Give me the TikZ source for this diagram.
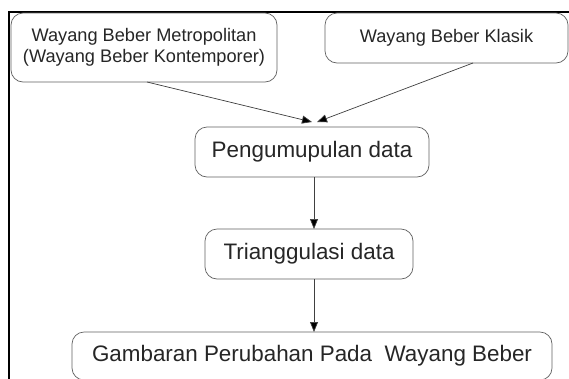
\documentclass[tikz,border=0pt]{standalone}
\usepackage{fontspec}
\setmainfont{Liberation Sans}
\usetikzlibrary{arrows.meta,calc}
\begin{document}
\begin{tikzpicture}[x=1pt,y=-1pt,
  box/.style={draw=black!62,line width=0.7pt,rounded corners=12pt,inner sep=0pt,outer sep=0pt,
    align=center,text=black!85},
  smalltxt/.style={font=\fontsize{18.2}{21}\selectfont},
  bigtxt/.style={font=\fontsize{22.4}{26}\selectfont},
  arr/.style={draw=black!75,line width=0.7pt,-{Triangle[length=10pt,width=8pt,fill=black]}}]
\useasboundingbox (0,0) rectangle (569,378);
\clip (0,0) rectangle (569,378);
\fill[white] (0,0) rectangle (569,378);
\draw[line width=2pt] (9,380) -- (9,12) -- (575,12);
\node[box,smalltxt,minimum width=266pt,minimum height=69pt] (b1) at (144,47.5)
  {Wayang Beber Metropolitan\\(Wayang Beber Kontemporer)};
\node[box,smalltxt,minimum width=243pt,minimum height=50pt] (b2) at (446.5,38)
  {Wayang Beber Klasik};
\node[box,bigtxt,minimum width=234pt,minimum height=50pt] (p) at (312,152)
  {Pengumupulan data};
\node[box,bigtxt,minimum width=208pt,minimum height=50pt] (t) at (309,254)
  {Trianggulasi data};
\node[box,bigtxt,minimum width=480pt,minimum height=48pt] (g) at (312,356)
  {Gambaran Perubahan Pada\ \ Wayang Beber};
\coordinate (t1) at (312,122);
\coordinate (t2) at (317,122);
\draw[arr] ($(b1.south)+(3,0)$) -- (t1);
\draw[arr] ($(b2.south)+(26.5,0)$) -- (t2);
\draw[arr] ($(p.south)+(2,0)$) -- ($(t.north)+(5,0)$);
\draw[arr] ($(t.south)+(5,0)$) -- ($(g.north)+(2,0)$);
\end{tikzpicture}
\end{document}
